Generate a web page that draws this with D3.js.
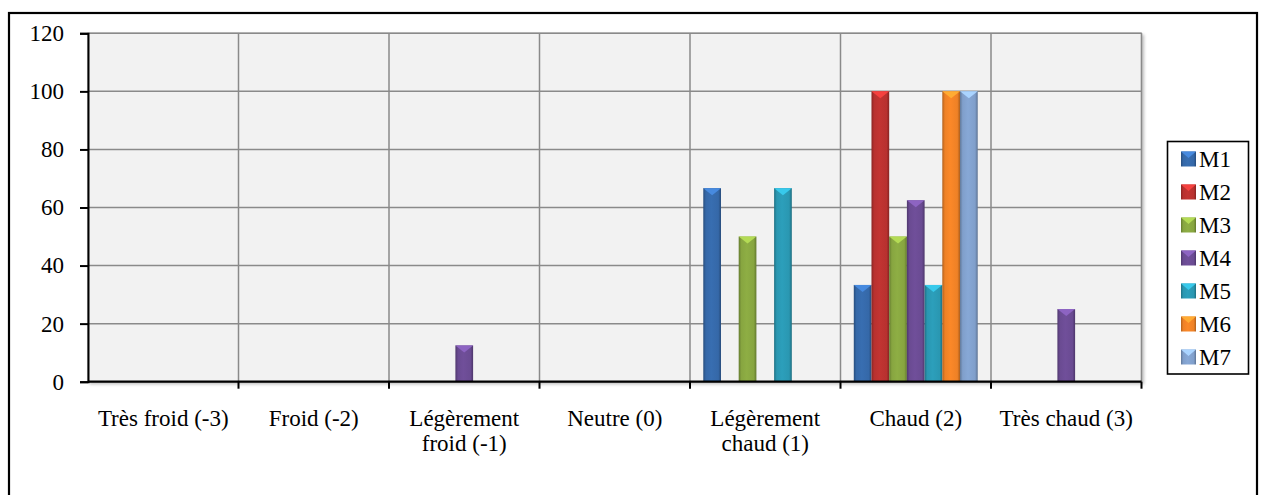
<!DOCTYPE html>
<html>
<head>
<meta charset="utf-8">
<script src="https://cdn.jsdelivr.net/npm/d3@7"></script>
<style>
  html, body { margin: 0; padding: 0; background: #fff; }
  svg { display: block; }
</style>
</head>
<body>
<svg id="chart" width="1261" height="495"></svg>
<script>
// Thermal sensation categories (x axis)
const categories = [
  ["Très froid (-3)"],
  ["Froid (-2)"],
  ["Légèrement", "froid (-1)"],
  ["Neutre (0)"],
  ["Légèrement", "chaud (1)"],
  ["Chaud (2)"],
  ["Très chaud (3)"]
];
const categoryKeys = categories.map(c => c.join(" "));

// Series names and their percentages per category
const seriesNames = ["M1", "M2", "M3", "M4", "M5", "M6", "M7"];
const M1 = [0, 0, 0, 0, 66.67, 33.33, 0];
const M2 = [0, 0, 0, 0, 0, 100, 0];
const M3 = [0, 0, 0, 0, 50, 50, 0];
const M4 = [0, 0, 12.5, 0, 0, 62.5, 25];
const M5 = [0, 0, 0, 0, 66.67, 33.33, 0];
const M6 = [0, 0, 0, 0, 0, 100, 0];
const M7 = [0, 0, 0, 0, 0, 100, 0];
const seriesValues = [M1, M2, M3, M4, M5, M6, M7];

const yTicks = [0, 20, 40, 60, 80, 100, 120];

// Base colour of each series
const seriesColors = ["#3568a8", "#b8312f", "#87a540", "#6a4b92", "#2a97b1", "#ee8126", "#809fcb"];

const FONT = '"Liberation Serif"';
const fontSize = 23;

const svg = d3.select("#chart");

const plot = { left: 88, right: 1141.5, top: 33.3, bottom: 381.7 };

const x = d3.scaleBand().domain(categoryKeys).range([plot.left, plot.right]).padding(0);
const xInner = d3.scaleBand().domain(seriesNames).range([0, x.bandwidth()])
  .paddingInner(0).paddingOuter(0.75);
const y = d3.scaleLinear().domain([0, 120]).range([plot.bottom, plot.top]);

// Gradients giving each bar a rounded, shaded look
const defs = svg.append("defs");
seriesColors.forEach((c, i) => {
  const base = d3.color(c);
  const g = defs.append("linearGradient").attr("id", "grad" + i)
    .attr("x1", "0%").attr("x2", "100%").attr("y1", "0%").attr("y2", "0%");
  g.append("stop").attr("offset", "0%").attr("stop-color", base.darker(0.8));
  g.append("stop").attr("offset", "15%").attr("stop-color", base);
  g.append("stop").attr("offset", "45%").attr("stop-color", base.brighter(0.15));
  g.append("stop").attr("offset", "85%").attr("stop-color", base);
  g.append("stop").attr("offset", "100%").attr("stop-color", base.darker(0.9));
});
const shadow = defs.append("filter").attr("id", "shadow")
  .attr("x", "-5%").attr("y", "-5%").attr("width", "110%").attr("height", "110%");
shadow.append("feDropShadow").attr("dx", 2).attr("dy", 2).attr("stdDeviation", 1.5)
  .attr("flood-color", "#000").attr("flood-opacity", 0.25);

// Outer chart frame
svg.append("rect")
  .attr("x", 9).attr("y", 13).attr("width", 1248).attr("height", 500)
  .attr("fill", "#fff").attr("stroke", "#000").attr("stroke-width", 2.2);

// Plot area
svg.append("rect")
  .attr("x", plot.left).attr("y", plot.top)
  .attr("width", plot.right - plot.left).attr("height", plot.bottom - plot.top)
  .attr("fill", "#f2f2f2").attr("stroke", "#8c8c8c").attr("stroke-width", 1.2)
  .attr("filter", "url(#shadow)");

// Horizontal gridlines
svg.append("g").selectAll("line").data(yTicks.filter(t => t > 0)).join("line")
  .attr("x1", plot.left).attr("x2", plot.right)
  .attr("y1", d => y(d)).attr("y2", d => y(d))
  .attr("stroke", "#8a8a8a").attr("stroke-width", 1.5);

// Vertical gridlines at category boundaries
const boundaries = categoryKeys.map(k => x(k)).concat([plot.right]);
svg.append("g").selectAll("line").data(boundaries.slice(1)).join("line")
  .attr("x1", d => d).attr("x2", d => d)
  .attr("y1", plot.top).attr("y2", plot.bottom)
  .attr("stroke", "#8a8a8a").attr("stroke-width", 1.5);

// Bars
const barData = [];
seriesNames.forEach((s, si) => {
  seriesValues[si].forEach((v, ci) => {
    if (v > 0) barData.push({ series: s, si, cat: categoryKeys[ci], value: v });
  });
});
const bars = svg.append("g").selectAll("g").data(barData).join("g");
bars.append("rect")
  .attr("x", d => x(d.cat) + xInner(d.series))
  .attr("y", d => y(d.value))
  .attr("width", xInner.bandwidth())
  .attr("height", d => y(0) - y(d.value))
  .attr("fill", d => "url(#grad" + d.si + ")");
// Bevelled cap at the top of each bar
bars.append("path")
  .attr("d", d => {
    const x0 = x(d.cat) + xInner(d.series);
    const w = xInner.bandwidth();
    const t = y(d.value);
    return `M${x0},${t} L${x0 + w},${t} L${x0 + w / 2},${t + 7} Z`;
  })
  .attr("fill", d => d3.color(seriesColors[d.si]).brighter(0.8));

// Y axis
const yAxis = svg.append("g").attr("transform", `translate(${plot.left},0)`)
  .call(d3.axisLeft(y).tickValues(yTicks).tickSize(8).tickPadding(16).tickFormat(d3.format("d")));
yAxis.attr("font-family", null).attr("font-size", null);
yAxis.select(".domain").attr("stroke", "#000").attr("stroke-width", 2);
yAxis.selectAll(".tick line").attr("stroke", "#000").attr("stroke-width", 2);
yAxis.selectAll("text")
  .style("font-family", FONT)
  .style("font-size", fontSize + "px").attr("fill", "#000");

// X axis line and boundary ticks
svg.append("line")
  .attr("x1", plot.left).attr("x2", plot.right)
  .attr("y1", plot.bottom).attr("y2", plot.bottom)
  .attr("stroke", "#000").attr("stroke-width", 2.2);
svg.append("g").selectAll("line").data(boundaries.slice(1)).join("line")
  .attr("x1", d => d).attr("x2", d => d)
  .attr("y1", plot.bottom).attr("y2", plot.bottom + 7)
  .attr("stroke", "#000").attr("stroke-width", 2);

// Category labels
const labels = svg.append("g").selectAll("text").data(categories).join("text")
  .attr("x", (d, i) => x(categoryKeys[i]) + x.bandwidth() / 2)
  .attr("y", 426)
  .attr("text-anchor", "middle")
  .style("font-family", FONT)
  .style("font-size", fontSize + "px");
labels.selectAll("tspan").data(d => d).join("tspan")
  .attr("x", function () { return d3.select(this.parentNode).attr("x"); })
  .attr("dy", (d, i) => i === 0 ? 0 : 24.5)
  .text(d => d);

// Legend
const legend = svg.append("g");
legend.append("rect")
  .attr("x", 1167.5).attr("y", 141.5).attr("width", 81).attr("height", 232.5)
  .attr("fill", "#fff").attr("stroke", "#000").attr("stroke-width", 1.6);
const items = legend.selectAll("g.item").data(seriesNames).join("g")
  .attr("class", "item")
  .attr("transform", (d, i) => `translate(0,${159 + i * 33})`);
items.append("rect")
  .attr("x", 1181).attr("y", -7.5).attr("width", 15).attr("height", 15)
  .attr("fill", (d, i) => "url(#grad" + i + ")");
items.append("path")
  .attr("d", "M1181,-7.5 L1196,-7.5 L1188.5,-1 Z")
  .attr("fill", (d, i) => d3.color(seriesColors[i]).brighter(0.8));
items.append("text")
  .attr("x", 1199).attr("y", 8)
  .style("font-family", FONT)
  .style("font-size", fontSize + "px")
  .text(d => d);

// Force text layout so the serif face is resolved before painting
svg.selectAll("text").each(function () { this.getComputedTextLength(); });
</script>
</body>
</html>
